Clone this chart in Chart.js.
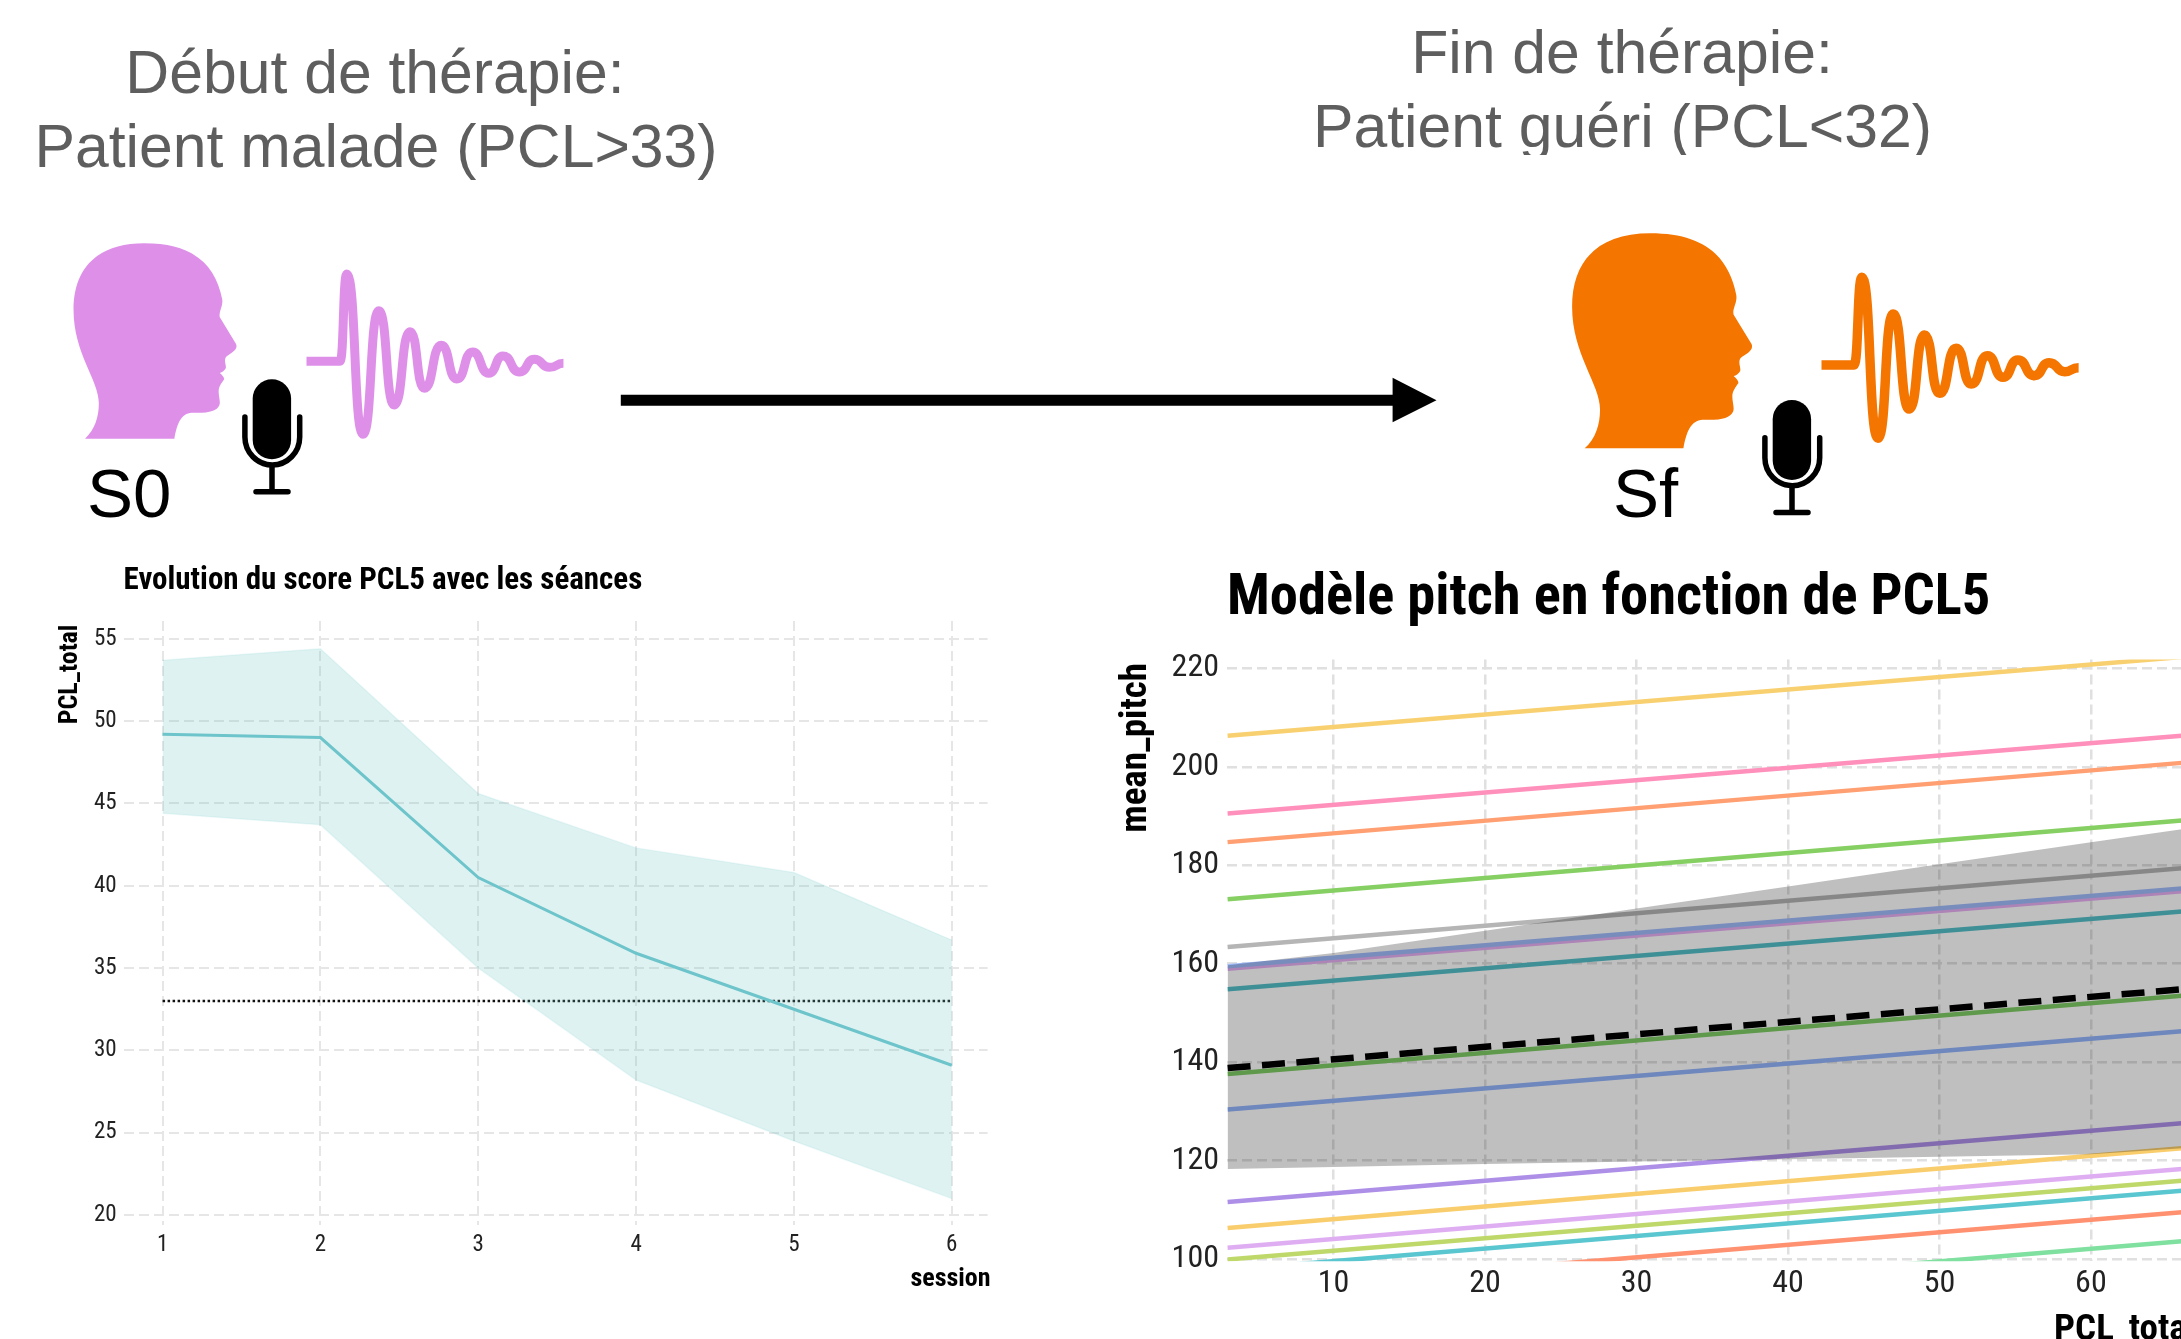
<!DOCTYPE html>
<html lang="fr">
<head>
<meta charset="utf-8">
<title>PCL5 et pitch</title>
<script src="https://cdn.jsdelivr.net/npm/chart.js@4/dist/chart.umd.min.js"></script>
<style>
  html, body { margin: 0; width: 2181px; height: 1339px; overflow: hidden; background: #fff; }
  #page { position: relative; width: 2181px; height: 1339px; overflow: hidden; }
  #page svg, #page canvas { position: absolute; }
  #art { left: 0; top: 0; }
  #chartSessions { left: 0; top: 542px; }
  #chartPitch { left: 1090px; top: 542px; }
  .head { font-family: "Liberation Sans", Arial, sans-serif; font-size: 60.7px; fill: #5e5e5e; text-anchor: middle; }
  .tag { font-family: "Liberation Sans", Arial, sans-serif; font-size: 69px; fill: #000; }
</style>
</head>
<body>
<div id="page">
  <svg id="art" width="2181" height="1339" viewBox="0 0 2181 1339">
    <defs>
      <clipPath id="cutHead"><rect x="1200" y="80" width="900" height="75"/></clipPath>
      <path id="headShape" d="M215,716 C240,690 250,650 250,610 C250,540 186,460 186,330 C186,200 250,130 365,130 C490,130 545,195 562,298 C565,320 552,335 556,352 L597,432 C603,450 585,458 572,470 C565,482 573,495 571,505 C568,512 562,517 556,519 C562,525 567,532 567,538 C560,550 553,560 553,575 C553,590 558,605 555,615 C548,635 525,640 485,638 C458,640 448,670 441,716 Z"/>
      <g id="mic">
        <rect x="252.7" y="379.3" width="38.4" height="80" rx="19.2" fill="#000"/>
        <path d="M244.9,417 V437 a27.4,28 0 0 0 54.8,0 V417" fill="none" stroke="#000" stroke-width="5.5" stroke-linecap="round"/>
        <path d="M272,466 V491.7 M256,491.7 H288" fill="none" stroke="#000" stroke-width="5.5" stroke-linecap="round"/>
      </g>
    </defs>

    <text class="head" x="375" y="92.7">Début de thérapie:</text>
    <text class="head" x="376" y="167.3">Patient malade (PCL&gt;33)</text>
    <text class="head" x="1622" y="72.7">Fin de thérapie:</text>
    <text class="head" x="1622.5" y="147.3" clip-path="url(#cutHead)">Patient guéri (PCL&lt;32)</text>

    <!-- gauche : S0 -->
    <use href="#headShape" fill="#DE90E9" transform="translate(0,200) scale(0.3954,0.3333)"/>
    <path id="waveStart" fill="none" stroke="#DE90E9" stroke-width="9"/>
    <use href="#mic"/>
    <text class="tag" x="87" y="516.7">S0</text>

    <!-- fleche -->
    <path d="M620.8,394.7 H1392.6 V377.7 L1436.5,400.3 L1392.6,422.3 V405.7 H620.8 Z" fill="#000"/>

    <!-- droite : Sf -->
    <use href="#headShape" fill="#F47500" transform="translate(1572.1,233.3) scale(0.4366,0.3669) translate(-186,-130)"/>
    <path id="waveEnd" fill="none" stroke="#F47500" stroke-width="9.5"/>
    <use href="#mic" transform="translate(1520,20.7)"/>
    <text class="tag" x="1613" y="516.7">Sf</text>
  </svg>
  <canvas id="chartSessions" width="1020" height="773"></canvas>
  <canvas id="chartPitch" width="1120" height="820"></canvas>
</div>

<script>
'use strict';

/* ===== Evolution du score PCL5 ===== */
const sessions = [1, 2, 3, 4, 5, 6];
const pclMean = [49.2, 49.0, 40.5, 35.9, 32.5, 29.1];
const pclUpper = [53.7, 54.4, 45.6, 42.3, 40.8, 36.7];
const pclLower = [44.4, 43.7, 35.0, 28.2, 24.5, 21.0];
const pclThreshold = [33, 33, 33, 33, 33, 33];

/* ===== Modele pitch : droites par patient, lues a x=3 et x=66 ===== */
const pitchEnds = [3, 66];
const patientStart = [206.3, 190.5, 184.7, 173.1, 163.4, 159.5, 159.0, 154.8, 137.6, 130.4, 111.6, 106.3, 102.3, 99.9, 97.8, 93.5, 87.6];
const patientEnd = [222.3, 206.3, 200.8, 189.1, 179.4, 175.3, 174.7, 170.6, 153.5, 146.3, 127.6, 122.5, 118.3, 115.9, 113.9, 109.5, 103.6];
const patientColors = ['#F8D070', '#FF8FBB', '#FF9F72', '#86CF62', '#B5B5B5', '#A2BCFC', '#E8B0F5', '#55C0C8', '#7FCD64', '#93B4FC', '#AE8FE8', '#F9CD6B', '#DFAEF2', '#BFD86A', '#5AC6D0', '#FF9070', '#80E0A0'];
const fixedEffect = [138.8, 154.8];
const ribbonX = [3, 10, 20, 30, 40, 50, 60, 66];
const ribbonUpper = [159.7, 162.2, 166.7, 171.2, 175.7, 180.2, 184.7, 187.3];
const ribbonLower = [118.3, 118.7, 119.3, 119.8, 120.3, 120.8, 121.3, 122.5];

const NARROW = "'Roboto Condensed', 'Liberation Sans Narrow', Roboto, sans-serif";

function pairs(xs, ys) {
    return xs.map((x, i) => ({ x: x, y: ys[i] }));
}

/* trace d'onde : tangentes horizontales aux extremes */
function wavePath(x0, xStep, yBase, tops) {
    let d = 'M' + x0 + ',' + yBase + ' H' + xStep;
    let px = xStep, py = yBase;
    tops.forEach(p => {
        const dx = p[0] - px;
        d += ' C' + (px + dx * .58) + ',' + py + ' ' + (p[0] - dx * .58) + ',' + p[1] + ' ' + p[0] + ',' + p[1];
        px = p[0]; py = p[1];
    });
    return d;
}
function toPage(points, sx, ox) {
    return points.map(p => [p[0] / sx + ox, p[1] / 3 + 200]);
}
const waveA = toPage([[877, 222], [918, 703], [958, 332], [997, 615], [1037, 395], [1073, 565], [1116, 436], [1155, 537], [1195, 456], [1236, 520], [1272, 468], [1314, 516], [1351, 478], [1390, 502], [1425, 490]], 2.529, 0);
const waveB = toPage([[833, 232], [870, 715], [905, 342], [942, 627], [977, 405], [1012, 580], [1050, 445], [1085, 552], [1122, 467], [1158, 532], [1192, 480], [1230, 527], [1264, 488], [1300, 515], [1332, 503]], 2.302, 1500);
document.getElementById('waveStart').setAttribute('d', wavePath(306.5, 340, 361.3, waveA));
document.getElementById('waveEnd').setAttribute('d', wavePath(1821.5, 1854, 365, waveB));

/* axe commun : grille en tirets, largeur/hauteur imposees, titre decale a la main */
function axis(opt) {
    return {
        type: 'linear',
        min: opt.min, max: opt.max,
        position: opt.position,
        afterFit: s => {
            if (opt.position === 'left') s.width = opt.box; else s.height = opt.box;
            if (!s._titleMoved) {
                const drawTitle = s.drawTitle;
                s.drawTitle = function () {
                    s.ctx.save();
                    s.ctx.translate(opt.titleShift[0], opt.titleShift[1]);
                    drawTitle.call(s);
                    s.ctx.restore();
                };
                s._titleMoved = true;
            }
        },
        grid: { color: opt.gridColor, lineWidth: opt.gridWidth, drawTicks: false },
        border: { display: false, dash: [10, 5] },
        ticks: {
            stepSize: opt.step, includeBounds: false, maxRotation: 0, autoSkip: false,
            padding: opt.tickPad, color: '#222',
            font: { family: NARROW, size: opt.tickSize }
        },
        title: {
            display: true, text: opt.title, align: 'end', color: '#000',
            font: { family: NARROW, size: opt.titleSize, weight: 'bold', lineHeight: 1 },
            padding: opt.titlePad
        }
    };
}

new Chart(document.getElementById('chartSessions'), {
    type: 'line',
    data: {
        datasets: [
            { data: pairs(sessions, pclUpper), borderColor: 'rgba(105,195,195,.12)', borderWidth: 1.5, pointRadius: 0, tension: 0, fill: '+1', backgroundColor: 'rgba(105,195,195,.22)' },
            { data: pairs(sessions, pclLower), borderColor: 'rgba(105,195,195,.12)', borderWidth: 1.5, pointRadius: 0, tension: 0, fill: false },
            { data: pairs(sessions, pclMean), borderColor: '#6FC5CC', borderWidth: 3, pointRadius: 0, tension: 0, fill: false },
            { data: pairs(sessions, pclThreshold), borderColor: '#111', borderWidth: 2.5, borderDash: [2.5, 2.5], pointRadius: 0, tension: 0, fill: false }
        ]
    },
    options: {
        responsive: false, animation: false,
        layout: { padding: { left: 0, right: 32.4, top: 0, bottom: 0 } },
        plugins: {
            legend: { display: false }, tooltip: { enabled: false },
            title: {
                display: true, fullSize: false, align: 'start', text: 'Evolution du score PCL5 avec les séances', color: '#000',
                font: { family: NARROW, size: 31, weight: 'bold', lineHeight: 1 },
                padding: { top: 24, bottom: 24 }
            }
        },
        scales: {
            x: axis({ position: 'bottom', min: 0.753, max: 6.227, step: 1, box: 90.4, gridColor: '#e6e6e6', gridWidth: 2, tickPad: 7, tickSize: 23, title: 'session', titleSize: 26, titleShift: [3, 1], titlePad: { top: 0, bottom: 24 } }),
            y: axis({ position: 'left', min: 19.42, max: 56.08, step: 5, box: 123.6, gridColor: '#e6e6e6', gridWidth: 2, tickPad: 7, tickSize: 23, title: 'PCL_total', titleSize: 26, titleShift: [3, 3.6], titlePad: { top: 54, bottom: 0 } })
        }
    }
});

const patientSets = patientStart.map((v, i) => ({
    data: pairs(pitchEnds, [v, patientEnd[i]]),
    borderColor: patientColors[i], borderWidth: 4.5, pointRadius: 0, tension: 0, fill: false, order: 3
}));

new Chart(document.getElementById('chartPitch'), {
    type: 'line',
    data: {
        datasets: [
            { data: pairs(ribbonX, ribbonUpper), borderWidth: 0, pointRadius: 0, tension: 0, fill: '+1', backgroundColor: 'rgba(0,0,0,.25)', order: 2 },
            { data: pairs(ribbonX, ribbonLower), borderWidth: 0, pointRadius: 0, tension: 0, fill: false, order: 2 },
            { data: pairs(pitchEnds, fixedEffect), borderColor: '#000', borderWidth: 6.5, borderDash: [23, 11.5], pointRadius: 0, tension: 0, fill: false, order: 1 },
            ...patientSets
        ]
    },
    options: {
        responsive: false, animation: false,
        layout: { padding: { left: 0, right: 4, top: 0, bottom: 0 } },
        plugins: {
            legend: { display: false }, tooltip: { enabled: false },
            title: {
                display: true, fullSize: false, align: 'start', text: 'Modèle pitch en fonction de PCL5', color: '#000',
                font: { family: NARROW, size: 56.5, weight: 'bold', lineHeight: 1 },
                padding: { top: 30, bottom: 31 }
            }
        },
        scales: {
            x: axis({ position: 'bottom', min: 2.96, max: 67.6, step: 10, box: 100.7, gridColor: '#e0e0e0', gridWidth: 2.5, tickPad: 3, tickSize: 32, title: 'PCL_total', titleSize: 37, titleShift: [-10, 0], titlePad: { top: 0, bottom: 13 } }),
            y: axis({ position: 'left', min: 99.55, max: 221.8, step: 20, box: 137, gridColor: '#e0e0e0', gridWidth: 2.5, tickPad: 8, tickSize: 32, title: 'mean_pitch', titleSize: 37, titleShift: [2.8, 3.5], titlePad: { top: 25, bottom: 0 } })
        }
    }
});
</script>
</body>
</html>
